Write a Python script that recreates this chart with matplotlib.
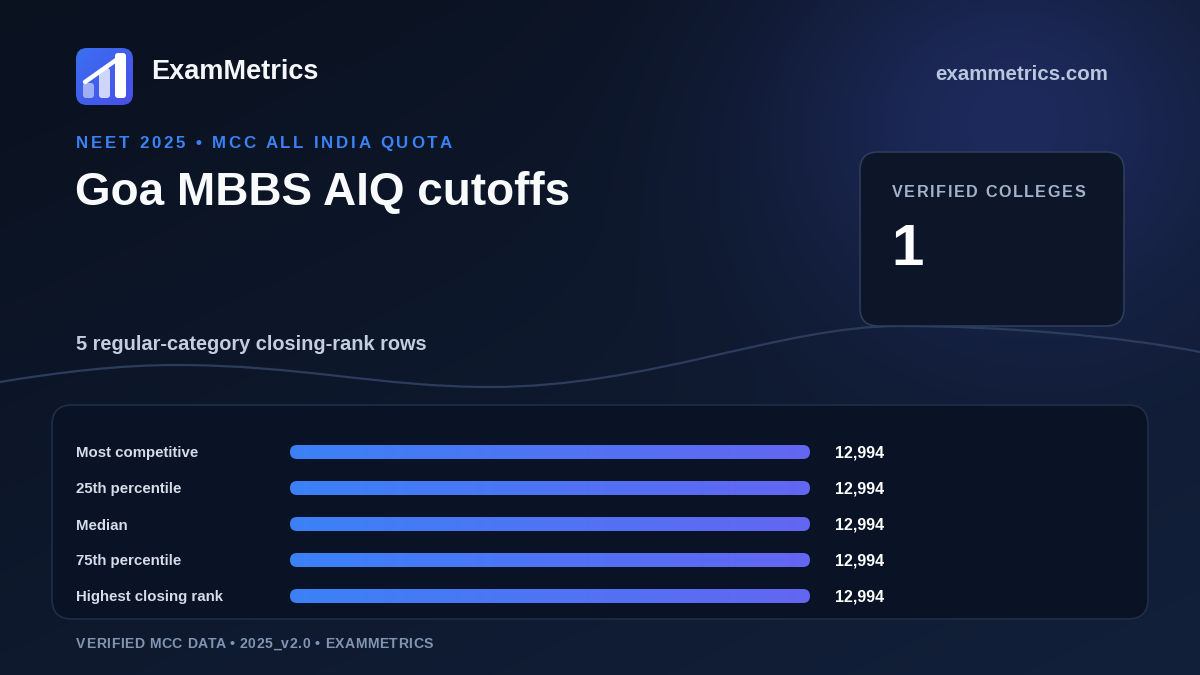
import numpy as np
import matplotlib
matplotlib.use("Agg")
import matplotlib.pyplot as plt
from matplotlib.patches import FancyBboxPatch, PathPatch
from matplotlib.path import Path
from matplotlib.font_manager import FontProperties
from matplotlib.colors import LinearSegmentedColormap, to_rgb

plt.rcParams['font.family'] = ['Liberation Sans', 'DejaVu Sans']

# ---------------- data ----------------
row_labels = ["Most competitive", "25th percentile", "Median", "75th percentile", "Highest closing rank"]
closing_ranks = [12994, 12994, 12994, 12994, 12994]
verified_colleges = 1
brand = "ExamMetrics"
site = "exammetrics.com"
kicker = "NEET 2025 \u2022 MCC ALL INDIA QUOTA"
title = "Goa MBBS AIQ cutoffs"
subtitle = "5 regular-category closing-rank rows"
card_label = "VERIFIED COLLEGES"
footer = "VERIFIED MCC DATA \u2022 2025_v2.0 \u2022 EXAMMETRICS"

W, H = 1200, 675
fig = plt.figure(figsize=(12, 6.75), dpi=100)
bg = fig.add_axes([0, 0, 1, 1])
bg.set_xlim(0, W)
bg.set_ylim(H, 0)
bg.axis('off')

# ---------------- background ----------------
yy, xx = np.mgrid[0:H, 0:W].astype(float)
c_tl = np.array(to_rgb('#0a111f'))
c_br = np.array(to_rgb('#12203a'))
t = np.clip((xx / W) * 0.45 + (yy / H) * 0.55, 0, 1)[..., None]
img = c_tl * (1 - t) + c_br * t
glow = np.exp(-(((xx - 1010) / 240) ** 2 + ((yy - 120) / 210) ** 2))[..., None]
c_glow = np.array(to_rgb('#222e68'))
img = img * (1 - 0.8 * glow) + c_glow * 0.8 * glow
bg.imshow(img, extent=(0, W, H, 0), zorder=0, aspect='auto', interpolation='bilinear')

# wave line
verts = [(0, 382), (60, 372), (120, 365), (176, 365),
         (300, 365), (380, 387), (490, 387),
         (650, 387), (780, 326), (900, 326),
         (1000, 326), (1120, 336), (1200, 352)]
codes = [Path.MOVETO] + [Path.CURVE4] * 12
bg.add_patch(PathPatch(Path(verts, codes), fill=False, edgecolor='#2c3c5e', lw=1.6, zorder=1))

# ---------------- helpers ----------------
renderer = fig.canvas.get_renderer()


def text_w(s, fp):
    return renderer.get_text_width_height_descent(s, fp, ismath=False)[0]


def spaced_text(x, y, s, size_pt, target_w, color, weight='bold'):
    fp = FontProperties(family='Liberation Sans', weight=weight, size=size_pt)
    base = text_w(s + 'I', fp) - text_w('I', fp)
    sp = (target_w - base) / (len(s) - 1)
    wI = text_w('I', fp)
    for i, ch in enumerate(s):
        if ch == ' ':
            continue
        px = text_w(s[:i] + 'I', fp) - wI if i > 0 else 0
        bg.text(x + px + i * sp, y, ch, fontproperties=fp, color=color,
                ha='left', va='baseline', zorder=5)


# ---------------- logo ----------------
logo = FancyBboxPatch((76, 48), 57, 57, boxstyle="round,pad=0,rounding_size=11",
                      fc='none', ec='none', zorder=3)
bg.add_patch(logo)
lg = np.linspace(0, 1, 64)
lgimg = (lg[None, :] + lg[:, None]) / 2
cm_logo = LinearSegmentedColormap.from_list('lg', ['#3a6ff2', '#4a4fe6'])
im = bg.imshow(lgimg, cmap=cm_logo, extent=(76, 133, 105, 48), zorder=3, aspect='auto')
im.set_clip_path(logo)
for (bx, btop, a) in [(83, 83, 0.5), (99, 68, 0.75), (115, 53, 1.0)]:
    bg.add_patch(FancyBboxPatch((bx, btop), 11, 98 - btop, boxstyle="round,pad=0,rounding_size=3",
                                fc=(1, 1, 1, a), ec='none', zorder=4))
bg.plot([85, 119], [82, 58], color='white', lw=3.2, solid_capstyle='round', zorder=4)

bg.text(151, 79, brand, fontsize=19.5, fontweight='bold', color='#f5f7fb', va='baseline', zorder=5)
bg.text(1108, 80, site, fontsize=14.8, fontweight='bold', color='#b9c6dd', ha='right', va='baseline', zorder=5)

spaced_text(76, 148, kicker, 12.2, 375, '#3b82f6')
bg.text(75, 205, title, fontsize=33, fontweight='bold', color='#f8fafc', va='baseline', zorder=5)
bg.text(76, 350, subtitle, fontsize=14.4, fontweight='bold', color='#c3cee0', va='baseline', zorder=5)

# ---------------- card ----------------
bg.add_patch(FancyBboxPatch((860, 152), 264, 174, boxstyle="round,pad=0,rounding_size=18",
                            fc='#0c1628', ec='#2c3c5a', lw=1.2, zorder=2))
spaced_text(892, 197, card_label, 11.6, 193, '#a3b3cb')
bg.text(891, 265, str(verified_colleges), fontsize=42, fontweight='bold', color='#ffffff',
        va='baseline', zorder=5)

# ---------------- panel ----------------
bg.add_patch(FancyBboxPatch((52, 405), 1096, 214, boxstyle="round,pad=0,rounding_size=20",
                            fc='#0a1325', ec='#1f2d48', lw=1.2, zorder=2))

# bars axes
n = len(closing_ranks)
vmax = max(closing_ranks)
bx0, bx1 = 290, 810
row_top, row_bot = 434, 614
bax = fig.add_axes([bx0 / W, 1 - row_bot / H, (bx1 - bx0) / W, (row_bot - row_top) / H])
bax.set_zorder(3)
bax.patch.set_alpha(0)
bax.axis('off')
bax.set_xlim(0, vmax)
bax.set_ylim(n - 0.5, -0.5)
xu_per_px = vmax / (bx1 - bx0)
yu_per_px = n / (row_bot - row_top)
bar_h = 14 * yu_per_px
cm_bar = LinearSegmentedColormap.from_list('bar', ['#3b82f6', '#6366f1'])
grad = np.linspace(0, 1, 256)[None, :]
to_bg = bax.transData + bg.transData.inverted()
for i, (lab, v) in enumerate(zip(row_labels, closing_ranks)):
    p = FancyBboxPatch((0, i - bar_h / 2), v, bar_h,
                       boxstyle=f"round,pad=0,rounding_size={7 * xu_per_px}",
                       mutation_aspect=yu_per_px / xu_per_px,
                       fc='none', ec='none')
    bax.add_patch(p)
    bim = bax.imshow(grad, cmap=cm_bar, extent=(0, v, i + bar_h / 2, i - bar_h / 2),
                     aspect='auto', interpolation='bilinear')
    bim.set_clip_path(p)
    (lx, ly) = to_bg.transform((0, i))
    (vx, vy) = to_bg.transform((v, i))
    bg.text(76, ly + 5.5, lab, fontsize=10.8, fontweight='bold', color='#d6dde8',
            va='baseline', zorder=5)
    bg.text(vx + 25, vy + 5.5, f"{v:,}", fontsize=11.5, fontweight='bold', color='#ffffff',
            va='baseline', zorder=5)
bax.set_xlim(0, vmax)
bax.set_ylim(n - 0.5, -0.5)

spaced_text(76, 648, footer, 10.1, 357, '#8394b2')

fig.savefig("out.png", dpi=100, facecolor='#0a111f')
